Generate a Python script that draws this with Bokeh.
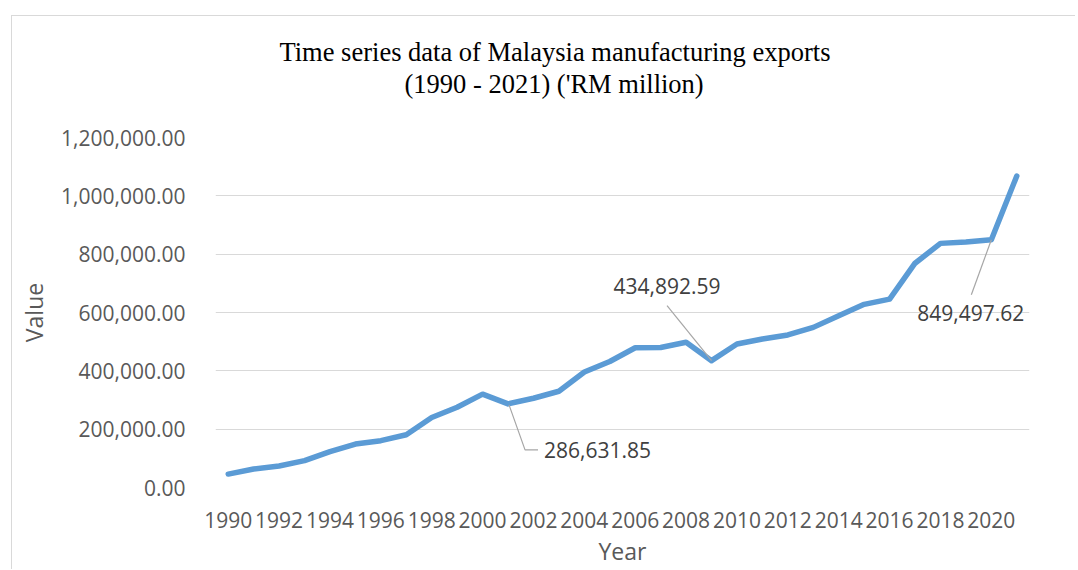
from bokeh.plotting import figure
from bokeh.models import Range1d, FixedTicker, NumeralTickFormatter, Title, ColumnDataSource, Spacer
from bokeh.layouts import row, column
from bokeh.core.properties import value
from bokeh.embed import file_html
from bokeh.resources import INLINE

# ---------------- data ----------------
years = list(range(1990, 2022))
exports = [46000, 63400, 73700, 92000, 123000, 149000, 160500, 181000,
           240000, 275000, 320000, 286631.85, 306000, 330000, 396000, 432000,
           479000, 480000, 497800, 434892.59, 492000, 509000, 523000, 549000,
           589000, 628000, 646000, 769000, 837000, 842000, 849497.62, 1068000]
x_tick_years = list(range(1990, 2021, 2))
y_tick_values = [0, 200000, 400000, 600000, 800000, 1000000, 1200000]
title_line1 = "Time series data of Malaysia manufacturing exports"
title_line2 = "(1990 - 2021) ('RM million)"
x_axis_title = "Year"
y_axis_title = "Value"
labelled_years = [2001, 2009, 2020]

# ---------------- layout (pixels) ----------------
W, H = 1064, 554
ML, MR, MT, MB = 203, 47, 121, 83
FRAME_W = W - ML - MR
FRAME_H = H - MT - MB
X0, X1 = 1989.5, 2021.5
Y0, Y1 = 0, 1200000

# label placement relative to its point, in screen pixels (+y = down)
label_text_offsets = [(36, 46), (-44.5, -74.5), (-20.6, 73.7)]
label_aligns = ["left", "center", "center"]
leader_offsets = [[(1, 1), (17, 46), (30, 46)],
                  [(0, 0), (-44.5, -55)],
                  [(0, 0), (-20, 55)]]

font = "Open Sans"
axis_color = "#595959"
grid_color = "#d9d9d9"
line_color = "#5B9BD5"

p = figure(width=W, height=H, output_backend="svg", toolbar_location=None,
           x_range=Range1d(X0, X1), y_range=Range1d(Y0, Y1),
           min_border_left=ML, min_border_right=MR,
           min_border_top=MT, min_border_bottom=MB)
p.styles = {"border-left": "1px solid #d9d9d9", "border-top": "1px solid #d9d9d9"}
p.outline_line_color = None
p.background_fill_color = "white"
p.border_fill_color = "white"

# titles: the first title is outermost, later-added ones sit nearer the frame
p.title.text = title_line1
p.title.text_font = "Liberation Serif"
p.title.text_font_size = "26.5px"
p.title.text_font_style = "normal"
p.title.text_color = "black"
p.title.align = "left"
p.title.offset = 64
p.title.standoff = -77
t2 = Title(text=title_line2, text_font="Liberation Serif", text_font_size="26.5px",
           text_font_style="normal", text_color="black", align="left", offset=189,
           standoff=77)
p.add_layout(t2, "above")

# grid
p.xgrid.grid_line_color = None
p.ygrid.grid_line_color = grid_color
p.ygrid.grid_line_width = 1

# axes
p.xaxis.ticker = FixedTicker(ticks=x_tick_years)
p.yaxis.ticker = FixedTicker(ticks=y_tick_values)
p.yaxis.formatter = NumeralTickFormatter(format="0,0.00")
for ax in (p.xaxis[0], p.yaxis[0]):
    ax.axis_line_color = None
    ax.major_tick_line_color = None
    ax.minor_tick_line_color = None
    ax.major_tick_out = 0
    ax.major_tick_in = 0
    ax.minor_tick_out = 0
    ax.major_label_text_font = font
    ax.major_label_text_font_size = "21px"
    ax.major_label_text_color = axis_color
    ax.axis_label_text_font = font
    ax.axis_label_text_font_size = "23px"
    ax.axis_label_text_font_style = "normal"
    ax.axis_label_text_color = axis_color
p.xaxis.axis_label = x_axis_title
p.yaxis.axis_label = y_axis_title
p.yaxis.major_label_standoff = 30
p.xaxis.major_label_standoff = 24
p.xaxis.axis_label_standoff = 4
p.yaxis.axis_label_standoff = 8

# series line
src = ColumnDataSource(dict(x=years, y=exports))
p.line("x", "y", source=src, line_color=line_color, line_width=5.5,
       line_join="round", line_cap="round")

# data labels with leader lines
px_per_x = FRAME_W / (X1 - X0)
px_per_y = FRAME_H / (Y1 - Y0)
lx, ly, ltxt, ldx, ldy, lal = [], [], [], [], [], []
mx, my = [], []
for yr, toff, al, loffs in zip(labelled_years, label_text_offsets, label_aligns, leader_offsets):
    v = exports[years.index(yr)]
    lx.append(yr); ly.append(v)
    ltxt.append(f"{v:,.2f}")
    ldx.append(toff[0]); ldy.append(toff[1]); lal.append(al)
    mx.append([yr + dx / px_per_x for dx, dy in loffs])
    my.append([v - dy / px_per_y for dx, dy in loffs])

p.multi_line(xs=mx, ys=my, line_color="#a6a6a6", line_width=1.2)
lsrc = ColumnDataSource(dict(x=lx, y=ly, text=ltxt, dx=ldx, dy=ldy, al=lal))
p.text("x", "y", text="text", source=lsrc, x_offset="dx", y_offset="dy",
       text_align="al", text_baseline="middle", text_font=value(font),
       text_font_size="21px", text_color="#404040")

layout = row(Spacer(width=11, height=10), column(Spacer(width=10, height=15), p))
open("out.html", "w").write(file_html(layout, INLINE))
